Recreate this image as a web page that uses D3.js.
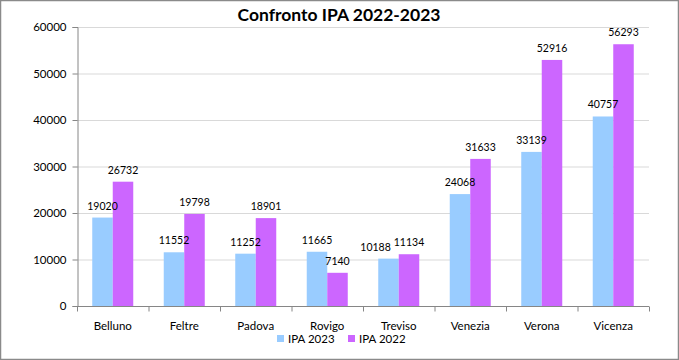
<!DOCTYPE html>
<html><head><meta charset="utf-8">
<script src="https://cdn.jsdelivr.net/npm/d3@7"></script>
<style>html,body{margin:0;padding:0;background:#fff;}svg{display:block;}</style>
</head><body>
<svg id="c" width="679" height="360"></svg>
<script>
const categories = ["Belluno","Feltre","Padova","Rovigo","Treviso","Venezia","Verona","Vicenza"];
const ipa2023 = [19020,11552,11252,11665,10188,24068,33139,40757];
const ipa2022 = [26732,19798,18901,7140,11134,31633,52916,56293];
const seriesNames = ["IPA 2023","IPA 2022"];
const colors = ["#99CCFF","#CC66FF"];
const yTicks = [0,10000,20000,30000,40000,50000,60000];
const title = "Confronto IPA 2022-2023";

const font = "Lato, 'Liberation Sans', sans-serif";
const svg = d3.select("#c");
const W = 679, H = 360;
svg.append("rect").attr("x",0.5).attr("y",0.5).attr("width",W-1).attr("height",H-1)
  .attr("fill","#fff").attr("stroke","#8a8a8a").attr("stroke-width",1.5);

const m = {left:77, right:649, top:27, bottom:306};
const x = d3.scaleBand().domain(categories).range([m.left,m.right]);
const y = d3.scaleLinear().domain([0,60000]).range([m.bottom,m.top]);
const bw = 20.5;

// gridlines
svg.append("g").selectAll("line").data(yTicks.filter(d=>d>0)).join("line")
  .attr("x1",m.left).attr("x2",m.right).attr("y1",d=>y(d)+0.5).attr("y2",d=>y(d)+0.5)
  .attr("stroke","#d9d9d9").attr("stroke-width",1);

// bars
const series = [ipa2023, ipa2022];
const barLayer = svg.append("g");
const labelLayer = svg.append("g");
const labelSel = [];
series.forEach((vals,si)=>{
  barLayer.append("g").selectAll("rect").data(vals).join("rect")
    .attr("x",(d,i)=>x(categories[i])+x.bandwidth()/2 - bw + si*bw)
    .attr("y",d=>y(d)).attr("width",bw).attr("height",d=>y(0)-y(d))
    .attr("fill",colors[si]);
  labelSel.push(labelLayer.append("g").selectAll("text").data(vals).join("text")
    .attr("x",(d,i)=>x(categories[i])+x.bandwidth()/2 - bw/2 + si*bw)
    .attr("y",d=>y(d)-8)
    .attr("text-anchor","middle").attr("font-family",font).attr("font-size",10.5)
    .attr("fill","#000").text(d=>d));
});
// avoid overlap between paired labels (shift first series label left)
const n0 = labelSel[0].nodes(), n1 = labelSel[1].nodes();
n0.forEach((a,i)=>{
  const b = n1[i];
  const ba = a.getBBox(), bb = b.getBBox();
  const vOverlap = ba.y < bb.y + bb.height && bb.y < ba.y + ba.height;
  if (vOverlap && ba.x + ba.width > bb.x - 3) {
    const shift = ba.x + ba.width - (bb.x - 3);
    a.setAttribute("x", +a.getAttribute("x") - shift);
  }
});

// y axis
const yAxis = d3.axisLeft(y).tickValues(yTicks).tickSize(5).tickPadding(6).tickFormat(d3.format("d"));
const ya = svg.append("g").attr("transform",`translate(${m.left+0.5},0)`).call(yAxis);
ya.select(".domain").attr("stroke","#868686");
ya.selectAll(".tick line").attr("stroke","#868686");
ya.selectAll(".tick text").attr("font-family",font).attr("font-size",11.5).attr("fill","#000");

// x axis
const xa = svg.append("g").attr("transform",`translate(0,${m.bottom+0.5})`);
xa.append("line").attr("x1",m.left).attr("x2",m.right).attr("stroke","#868686");
const bounds = categories.map(c=>x(c)).concat([m.right]);
xa.selectAll("line.t").data(bounds).join("line").attr("class","t")
  .attr("x1",d=>d+0.5).attr("x2",d=>d+0.5).attr("y1",0).attr("y2",5).attr("stroke","#868686");
xa.selectAll("text").data(categories).join("text")
  .attr("x",d=>x(d)+x.bandwidth()/2).attr("y",23)
  .attr("text-anchor","middle").attr("font-family",font).attr("font-size",11.5).attr("fill","#000").text(d=>d);

// title
svg.append("text").attr("x",339).attr("y",21).attr("text-anchor","middle")
  .attr("font-family",font).attr("font-weight","bold").attr("font-size",17.5).text(title);

// legend
const lg = svg.append("g");
const lx = [277, 348];
seriesNames.forEach((n,i)=>{
  lg.append("rect").attr("x",lx[i]).attr("y",335).attr("width",7).attr("height",7).attr("fill",colors[i]);
  lg.append("text").attr("x",lx[i]+11).attr("y",343).attr("font-family",font).attr("font-size",11.5).text(n);
});
</script>
</body></html>
